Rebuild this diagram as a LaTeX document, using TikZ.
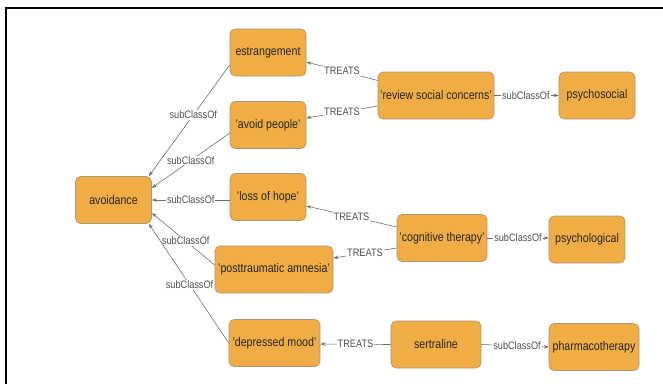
\documentclass[tikz,border=0pt]{standalone}
\usepackage{fontspec}
\setmainfont{Liberation Sans}[FakeStretch=0.85]
\usetikzlibrary{arrows.meta}
\definecolor{boxfill}{RGB}{241,173,69}
\definecolor{boxline}{RGB}{170,150,120}
\definecolor{edgecol}{RGB}{110,110,110}
\definecolor{labcol}{RGB}{80,80,80}
\begin{document}
\begin{tikzpicture}[x=1pt,y=-1pt,
  concept/.style={draw=boxline, line width=0.6pt, fill=boxfill, rounded corners=5pt,
    minimum height=47pt, inner sep=0pt, font=\fontsize{12.5}{14}\selectfont, text=black!85},
  rel/.style={draw=edgecol, line width=0.6pt, -{Stealth[length=5pt,width=3.5pt]}},
  lab/.style={fill=white, inner sep=1pt, text=labcol, font=\fontsize{10.8}{12}\selectfont}]
\useasboundingbox (0,0) rectangle (663,383);
\draw[line width=2pt] (6,384) -- (6,8) -- (664,8);
% nodes
\node[concept, minimum width=76pt] (av) at (113.5,200) {avoidance};
\node[concept, minimum width=76pt] (estr) at (268,52.5) {estrangement};
\node[concept, minimum width=76pt] (avp) at (268,125) {'avoid people'};
\node[concept, minimum width=76pt] (loss) at (268,197) {'loss of hope'};
\node[concept, minimum width=118pt] (ptsd) at (274,269.5) {'posttraumatic amnesia'};
\node[concept, minimum width=91pt] (dep) at (274.5,343) {'depressed mood'};
\node[concept, minimum width=116pt] (rev) at (436,95.5) {'review social concerns'};
\node[concept, minimum width=76pt] (psysoc) at (597,95.5) {psychosocial};
\node[concept, minimum width=90pt] (cog) at (442,238) {'cognitive therapy'};
\node[concept, minimum width=76pt] (psylog) at (587,239.5) {psychological};
\node[concept, minimum width=90pt] (sert) at (436,344.5) {sertraline};
\node[concept, minimum width=90pt] (pharm) at (594,347) {pharmacotherapy};
% subClassOf to avoidance
\draw[rel] ([yshift=-12.5pt]estr.west) -- node[lab, pos=0.45] {subClassOf} ([xshift=-3pt]av.north east);
\draw[rel] ([yshift=-8pt]avp.west) -- node[lab, pos=0.5] {subClassOf} ([yshift=12pt]av.east);
\draw[rel] ([yshift=-3pt]loss.west) -- node[lab, pos=0.5] {subClassOf} (av.east);
\draw[rel] ([yshift=4.5pt]ptsd.west) -- node[lab, pos=0.46] {subClassOf} ([yshift=-13pt]av.east);
\draw[rel] (dep.west) -- node[lab, pos=0.49] {subClassOf} ([xshift=-3pt]av.south east);
% TREATS
\draw[rel] ([yshift=15pt]rev.west) -- node[lab, pos=0.5] {TREATS} ([yshift=-9.5pt]estr.east);
\draw[rel] ([yshift=-10.5pt]rev.west) -- node[lab, pos=0.5] {TREATS} ([yshift=7pt]avp.east);
\draw[rel] ([yshift=11pt]cog.west) -- node[lab, pos=0.5] {TREATS} ([yshift=-9pt]loss.east);
\draw[rel] ([yshift=-10pt]cog.west) -- node[lab, pos=0.5] {TREATS} ([yshift=11.5pt]ptsd.east);
\draw[rel] (sert.west) -- node[lab, pos=0.5] {TREATS} ([yshift=-1pt]dep.east);
% subClassOf to categories
\draw[rel] (rev.east) -- node[lab, pos=0.49] {subClassOf} (psysoc.west);
\draw[rel] (cog.east) -- node[lab, pos=0.5] {subClassOf} ([yshift=1.5pt]psylog.west);
\draw[rel] (sert.east) -- node[lab, pos=0.53] {subClassOf} ([yshift=0pt]pharm.west);
\end{tikzpicture}
\end{document}
